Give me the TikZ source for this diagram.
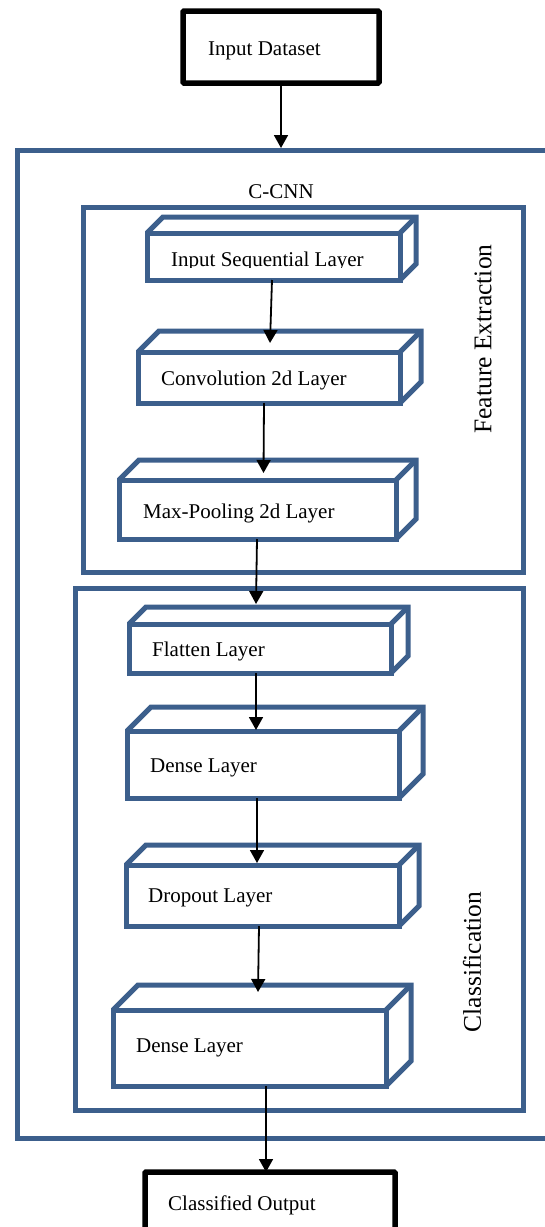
\documentclass[tikz,border=0pt]{standalone}
\usepackage{fontspec}
\setmainfont{Liberation Serif}
\usetikzlibrary{arrows.meta}
\definecolor{boxblue}{RGB}{60,95,140}
\newcommand{\mylayer}[6]{% name, x1, y1, x2, y2, depth
  \node[face, minimum width={#4-#2}, minimum height={#5-#3}] (#1) at ({(#2+#4)/2},{(#3+#5)/2}) {};
  \draw[bluebox] (#1.north west) -- ++(#6,-#6) -| ([shift={(#6,-#6)}]#1.south east) -- (#1.south east);
  \draw[bluebox] (#1.north east) -- ++(#6,-#6);
}
\begin{document}
\begin{tikzpicture}[x=1pt,y=-1pt,
  bluebox/.style={draw=boxblue,line width=5pt,line join=miter},
  face/.style={bluebox,inner sep=0pt,outer sep=0pt},
  blackbox/.style={draw=black,line width=5.5pt,inner sep=0pt,outer sep=0pt,rounded corners=1pt},
  lbl/.style={font=\fontsize{21}{24}\selectfont,inner sep=0pt,anchor=base west},
  sidelbl/.style={font=\fontsize{25.5}{28}\selectfont,inner sep=0pt,rotate=90},
  conn/.style={line width=1.8pt,-{Triangle[length=13pt,width=14pt]}},
]
\useasboundingbox (0,0) rectangle (544,1227);
\fill[white] (0,0) rectangle (544,1227);

% containers
\node[face, minimum width=543, minimum height=988] (cnn) at (288.5,644) {};
\node[face, minimum width=440, minimum height=365] (fe) at (303,389.5) {};
\node[face, minimum width=448, minimum height=522] (cl) at (299,849) {};

\node[lbl, anchor=base] (cnnlbl) at (281,198) {C-CNN};
\node[sidelbl] (felbl) at (483,339) {Feature Extraction};
\node[sidelbl] (cllbl) at (472,962) {Classification};

% input / output
\node[blackbox, minimum width=196, minimum height=72] (in) at (281,47) {};
\node[lbl] (inlbl) at (208,55) {Input Dataset};
\node[blackbox, minimum width=250, minimum height=78] (out) at (270,1211) {};
\node[lbl] (outlbl) at (168,1210) {Classified Output};

% layers
\mylayer{isl}{147}{233}{400}{280}{16}
\mylayer{conv}{138}{352}{400}{403}{21}
\mylayer{mp}{119}{480}{396}{539}{20}
\mylayer{fl}{129}{624}{391}{673}{17}
\mylayer{dA}{127}{731}{399}{798}{24}
\mylayer{dr}{126}{865}{399}{926}{20}
\mylayer{dB}{113}{1010}{386}{1086}{25}

\begin{scope}
\clip (140,238) rectangle (400,267.5);
\node[lbl] (isllbl) at (171,266) {Input Sequential Layer};
\end{scope}
\node[lbl] (convlbl) at (161,385) {Convolution 2d Layer};
\node[lbl] (mplbl) at (143,518) {Max-Pooling 2d Layer};
\node[lbl] (fllbl) at (152,656) {Flatten Layer};
\node[lbl] (dAlbl) at (150,772) {Dense Layer};
\node[lbl] (drlbl) at (148,902) {Dropout Layer};
\node[lbl] (dBlbl) at (136,1052) {Dense Layer};

% connectors
\draw[conn] (in.south) -- ([yshift=2pt]in.south |- cnn.north);
\draw[conn] ([xshift=-1.5pt]isl.south) -- ([xshift=1pt,yshift=9pt]conv.north);
\draw[conn] ([xshift=-5pt]conv.south) -- ([xshift=6pt,yshift=7pt]mp.north);
\draw[conn] ([xshift=-0.5pt]mp.south) -- ([xshift=-4pt,yshift=20pt]fl.north);
\draw[conn] ([xshift=-4pt]fl.south) -- ([xshift=-7pt,yshift=1pt]dA.north);
\draw[conn] ([xshift=-6pt]dA.south) -- ([xshift=-5.5pt,yshift=2pt]dr.north);
\draw[conn] ([xshift=-3.5pt]dr.south) -- ([xshift=8.5pt,yshift=18pt]dB.north);
\draw[conn] ([xshift=16.5pt]dB.south) -- ([xshift=-4pt]out.north);
\end{tikzpicture}
\end{document}
